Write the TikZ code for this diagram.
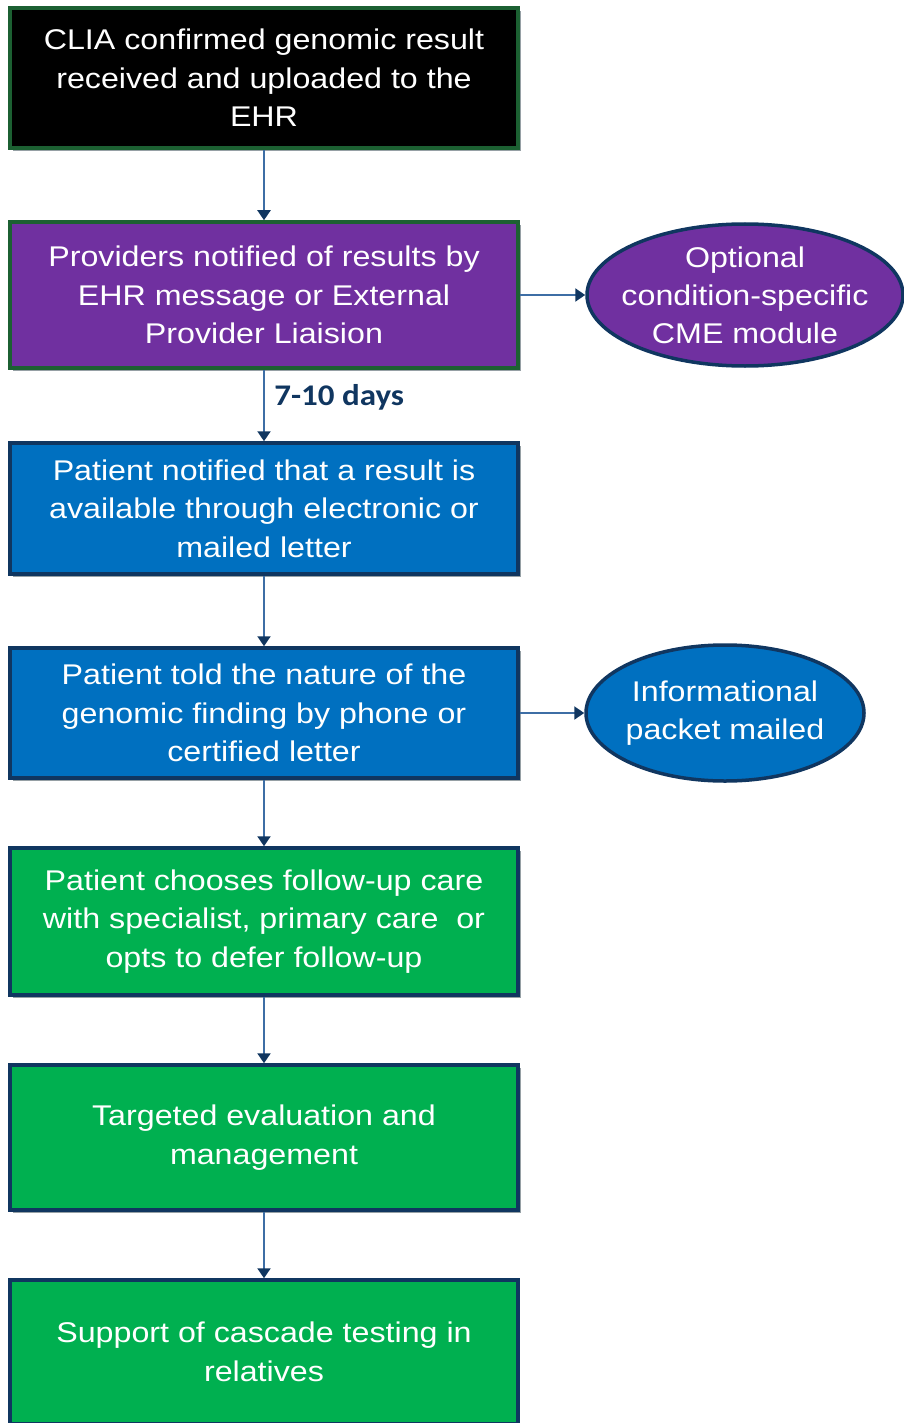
\documentclass[tikz,border=0pt]{standalone}
\usepackage{fontspec}
\setmainfont[FakeStretch=1.13]{Liberation Sans}
\newfontfamily\labelfont[FakeStretch=1.1]{Carlito}
\usetikzlibrary{shapes.geometric,arrows.meta}
\definecolor{dkgreen}{RGB}{28,96,50}
\definecolor{navy}{RGB}{16,54,96}
\definecolor{purp}{RGB}{112,48,160}
\definecolor{blu}{RGB}{0,112,192}
\definecolor{grn}{RGB}{0,176,80}
\definecolor{arr}{RGB}{62,110,165}
\definecolor{shadow}{RGB}{150,160,165}
\tikzset{
  flowbox/.style={rectangle, minimum width=508pt, line width=3.5pt, align=center,
    text=white, font=\fontsize{28.5}{38.5}\selectfont, inner sep=0pt},
  greenedge/.style={draw=dkgreen},
  navyedge/.style={draw=navy},
  oval/.style={ellipse, line width=3.5pt, draw=navy, align=center, text=white,
    font=\fontsize{28.5}{38}\selectfont, inner xsep=-50pt, inner ysep=-30pt},
  flow/.style={draw=arr, line width=2pt, -{Triangle[length=10pt,width=13pt,color=navy]}},
  boxshadow/.style={fill=shadow, draw=none}
}
\begin{document}
\begin{tikzpicture}[x=1pt,y=-1pt]
\useasboundingbox (0,0) rectangle (904,1423);
\clip (0,0) rectangle (904,1423);
% shadows
\foreach \t/\b in {8/148,222/368,443/574,648/778,848/995,1065/1210}{
  \fill[shadow] (13,\t+3) rectangle (521,\b+3);
}
\node[flowbox, greenedge, fill=black, minimum height=140pt] (b1) at (264,78)
  {CLIA confirmed genomic result\\received and uploaded to the\\EHR};
\node[flowbox, greenedge, fill=purp, minimum height=146pt] (b2) at (264,295)
  {Providers notified of results by\\EHR message or External\\Provider Liaision};
\node[oval, fill=purp, minimum width=316pt, minimum height=142pt] (e1) at (745,295)
  {Optional\\condition-specific\\CME module};
\node[flowbox, navyedge, fill=blu, minimum height=131pt] (b3) at (264,508.5)
  {Patient notified that a result is\\available through electronic or\\mailed letter};
\node[flowbox, navyedge, fill=blu, minimum height=130pt] (b4) at (264,713)
  {Patient told the nature of the\\genomic finding by phone or\\certified letter};
\node[oval, fill=blu, minimum width=278pt, minimum height=136pt] (e2) at (725,713)
  {Informational\\packet mailed};
\node[flowbox, navyedge, fill=grn, minimum height=147pt] (b5) at (264,921.5)
  {Patient chooses follow-up care\\with specialist, primary care~~or\\opts to defer follow-up};
\node[flowbox, navyedge, fill=grn, minimum height=145pt] (b6) at (264,1137.5)
  {Targeted evaluation and\\management};
\node[flowbox, navyedge, fill=grn, minimum height=144pt] (b7) at (264,1352)
  {Support of cascade testing in\\relatives};
\draw[flow] (b1.south) -- (b2.north);
\draw[flow] (b2.south) -- node[pos=0.38, right, xshift=6pt, text=navy, font=\labelfont\bfseries\fontsize{30}{34}\selectfont] {7-10 days} (b3.north);
\draw[flow] (b3.south) -- (b4.north);
\draw[flow] (b4.south) -- (b5.north);
\draw[flow] (b5.south) -- (b6.north);
\draw[flow] (b6.south) -- (b7.north);
\draw[flow] (b2.east) -- (e1.west);
\draw[flow] (b4.east) -- (e2.west);
\end{tikzpicture}
\end{document}
